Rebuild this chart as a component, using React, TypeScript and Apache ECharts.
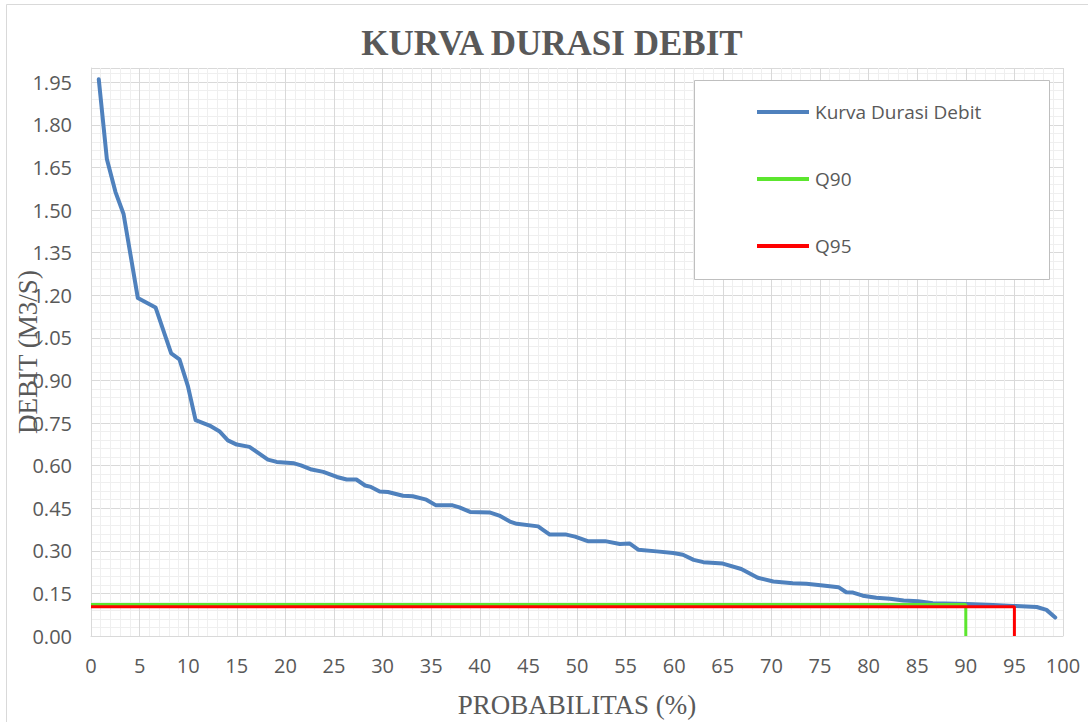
import React, { useEffect, useRef } from "react";
import * as echarts from "echarts";

const TITLE = "KURVA DURASI DEBIT";
const X_NAME = "PROBABILITAS (%)";
const Y_NAME = "DEBIT (M3/S)";
const SERIES_NAMES = ["Kurva Durasi Debit", "Q90", "Q95"];

// [probability %, discharge m3/s]
const curve: [number, number][] = [
  [0.8, 1.96], [1.63, 1.68], [2.52, 1.563], [3.35, 1.486], [4.82, 1.19], [6.64, 1.157],
  [7.46, 1.074], [8.25, 0.995], [9.1, 0.974], [9.97, 0.88], [10.76, 0.76], [12.2, 0.741],
  [13.2, 0.721], [14.08, 0.689], [15.0, 0.674], [16.3, 0.666], [17.2, 0.645], [18.2, 0.621],
  [19.1, 0.613], [20.9, 0.608], [21.6, 0.601], [22.7, 0.586], [23.9, 0.578], [25.3, 0.56],
  [26.3, 0.551], [27.3, 0.551], [28.2, 0.53], [28.8, 0.525], [29.7, 0.509], [30.55, 0.507],
  [32.1, 0.494], [33.1, 0.492], [34.5, 0.48], [35.5, 0.46], [37.2, 0.46], [37.9, 0.453],
  [39.0, 0.437], [41.0, 0.435], [42.0, 0.424], [43.1, 0.403], [43.8, 0.395], [46.0, 0.386],
  [46.5, 0.374], [47.2, 0.357], [48.9, 0.357], [49.8, 0.35], [51.1, 0.334], [52.9, 0.334],
  [54.4, 0.324], [55.4, 0.326], [56.3, 0.304], [58.2, 0.298], [59.9, 0.292], [60.9, 0.286],
  [62.0, 0.268], [63.0, 0.26], [65.0, 0.255], [66.9, 0.236], [68.6, 0.205], [70.2, 0.192],
  [72.2, 0.186], [73.6, 0.184], [75.3, 0.178], [76.9, 0.172], [77.7, 0.154], [78.4, 0.153],
  [79.4, 0.142], [80.8, 0.135], [82.2, 0.131], [83.6, 0.125], [85.1, 0.122], [86.6, 0.115],
  [90.1, 0.113], [92.8, 0.109], [94.9, 0.106], [97.3, 0.102], [98.3, 0.092], [99.2, 0.065],
];

const Q90_P = 90;
const Q90_V = 0.111;
const Q95_P = 95;
const Q95_V = 0.103;

const q90: [number, number][] = [[0, Q90_V], [Q90_P, Q90_V], [Q90_P, 0]];
const q95: [number, number][] = [[0, Q95_V], [Q95_P, Q95_V], [Q95_P, 0]];

const X_MIN = 0, X_MAX = 100, X_STEP = 5;
const Y_MIN = 0, Y_MAX = 2.0, Y_STEP = 0.15, Y_MINOR = 0.03;

export default function App() {
  const ref = useRef<HTMLDivElement>(null);
  useEffect(() => {
    document.body.style.margin = "0";
    const chart = echarts.init(ref.current!, null, { renderer: "svg" });
    const labelFont = { fontFamily: "Open Sans", fontSize: 20, color: "#595959" };
    chart.setOption({
      animation: false,
      backgroundColor: "#ffffff",
      title: {
        text: TITLE,
        left: 552,
        top: 26,
        padding: 0,
        textAlign: "center",
        textStyle: {
          fontFamily: "Liberation Serif",
          fontWeight: "bold",
          fontSize: 35,
          color: "#595959",
        },
      },
      grid: { left: 91, top: 68, right: 25, bottom: 86, containLabel: false, outerBoundsMode: "none" },
      xAxis: {
        type: "value",
        min: X_MIN,
        max: X_MAX,
        interval: X_STEP,
        name: X_NAME,
        nameLocation: "middle",
        nameGap: 55,
        nameMoveOverlap: false,
        nameTextStyle: { fontFamily: "Liberation Serif", fontSize: 27, color: "#595959" },
        axisLine: { show: true, lineStyle: { color: "#d9d9d9", width: 1 } },
        axisTick: { show: false },
        axisLabel: { ...labelFont, margin: 19 },
        splitLine: { show: true, lineStyle: { color: "#d9d9d9", width: 1 } },
        minorTick: { show: false, splitNumber: 5 },
        minorSplitLine: { show: true, lineStyle: { color: "#efefef", width: 1 } },
      },
      yAxis: [
        {
          type: "value",
          min: Y_MIN,
          max: Y_MAX,
          interval: Y_MINOR,
          axisLine: { show: false },
          axisTick: { show: false },
          axisLabel: { show: false },
          splitLine: { show: true, lineStyle: { color: "#efefef", width: 1 } },
        },
        {
          type: "value",
          min: Y_MIN,
          max: Y_MAX,
          interval: Y_STEP,
          position: "left",
          name: Y_NAME,
          nameLocation: "middle",
          nameGap: 50,
          nameRotate: 90,
          nameMoveOverlap: false,
          nameTextStyle: { fontFamily: "Liberation Serif", fontSize: 27, color: "#595959" },
          axisLine: { show: true, lineStyle: { color: "#d9d9d9", width: 1 } },
          axisTick: { show: false },
          axisLabel: {
            ...labelFont,
            margin: 19,
            showMaxLabel: false,
            formatter: (v: number) => (v > 1.99 ? "" : v.toFixed(2)),
          },
          splitLine: { show: true, lineStyle: { color: "#d9d9d9", width: 1 } },
        },
      ],
      legend: {
        orient: "vertical",
        left: 757,
        top: 102,
        padding: 0,
        itemGap: 47,
        itemWidth: 52,
        itemHeight: 4,
        icon: "rect",
        z: 6,
        textStyle: { ...labelFont, fontSize: 19, lineHeight: 20, padding: [0, 0, 0, 1] },
        data: SERIES_NAMES,
      },
      graphic: [
        {
          type: "rect",
          shape: { x: 6.5, y: 4.5, width: 1100, height: 800 },
          style: { fill: "none", stroke: "#d9d9d9", lineWidth: 1 },
          z: -1,
          silent: true,
        },
        {
          type: "rect",
          shape: { x: 694.5, y: 80.5, width: 355, height: 199 },
          style: { fill: "#ffffff", stroke: "#bfbfbf", lineWidth: 1 },
          z: 5,
          silent: true,
        },
      ],
      series: [
        {
          name: SERIES_NAMES[0],
          type: "line",
          yAxisIndex: 1,
          data: curve,
          symbol: "none",
          lineStyle: { color: "#4f81bd", width: 4, cap: "round", join: "round" },
          itemStyle: { color: "#4f81bd" },
          z: 2,
        },
        {
          name: SERIES_NAMES[1],
          type: "line",
          yAxisIndex: 1,
          data: q90,
          symbol: "none",
          lineStyle: { color: "#5ce62e", width: 3 },
          itemStyle: { color: "#5ce62e" },
          z: 3,
        },
        {
          name: SERIES_NAMES[2],
          type: "line",
          yAxisIndex: 1,
          data: q95,
          symbol: "none",
          lineStyle: { color: "#ff0000", width: 3 },
          itemStyle: { color: "#ff0000" },
          z: 4,
        },
      ],
    });
    return () => chart.dispose();
  }, []);
  return <div ref={ref} style={{ width: 1088, height: 722 }} />;
}
